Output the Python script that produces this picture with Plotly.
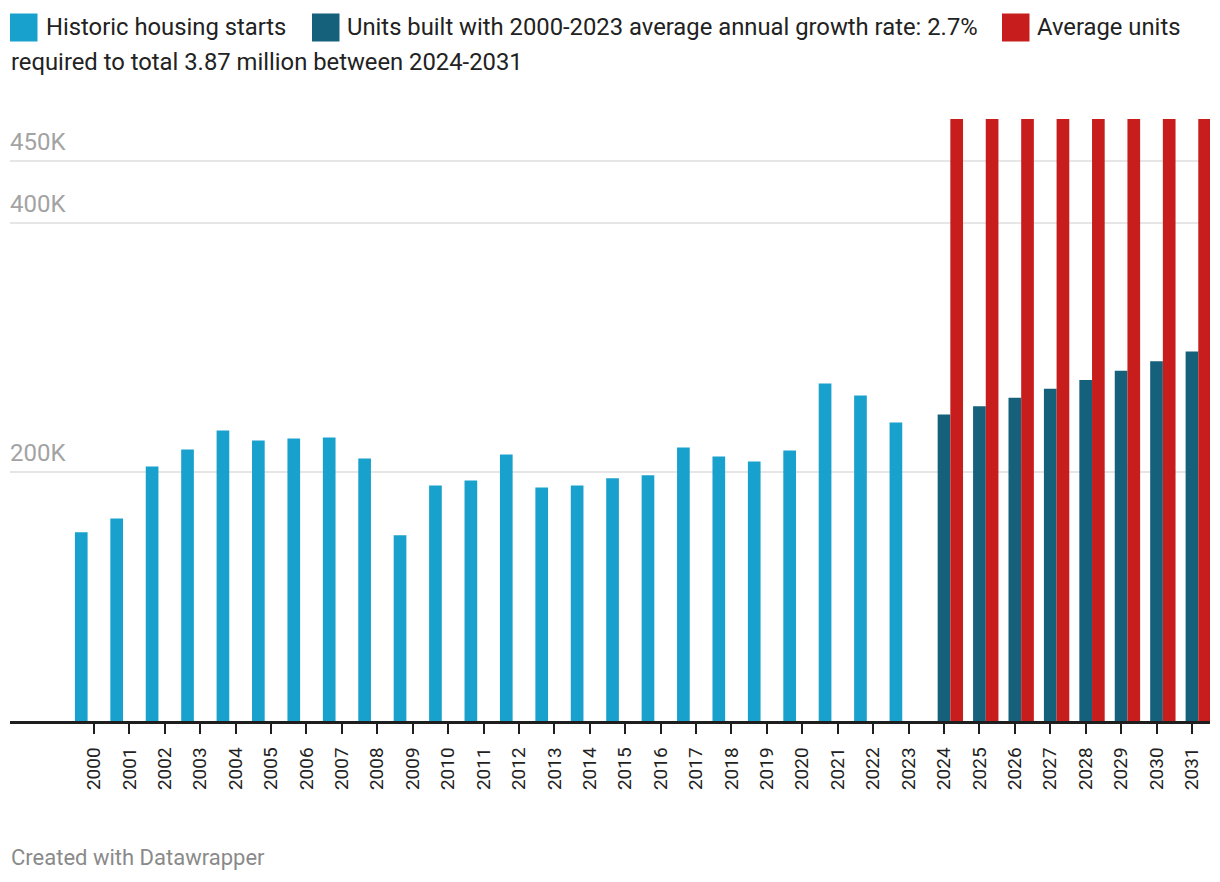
import plotly.graph_objects as go

# ---------------- data ----------------
years = [str(y) for y in range(2000, 2032)]
historic_years = [str(y) for y in range(2000, 2024)]
historic_starts = [151600, 162800, 204600, 218200, 233500, 225500, 227100, 227900,
                   211000, 149200, 189300, 193300, 214200, 187700, 189300, 195000,
                   197400, 219800, 212600, 208600, 217400, 271200, 261600, 239900]
proj_years = [str(y) for y in range(2024, 2032)]
growth_units = [246300, 252900, 259800, 266900, 274100, 281500, 289100, 296900]
required_units = [483750] * 8
ytick_vals = [200000, 400000, 450000]
ytick_text = ["200K", "400K", "450K"]

name_hist = "Historic housing starts"
name_growth = "Units built with 2000-2023 average annual growth rate: 2.7%"
name_req_1 = "Average units"
name_req_2 = "required to total 3.87 million between 2024-2031"

# ---------------- style ----------------
W, H = 1220, 882
ML, MR, MT, MB = 10, 10, 119, 161
PW, PH = W - ML - MR, H - MT - MB
C_BLUE, C_DARK, C_RED = "#18a1cd", "#15607a", "#c71e1d"
FONT = "Roboto"
slot = 0.358


def px_x(x):
    return (x - ML) / PW


def px_y(y):
    return (H - MB - y) / PH


fig = go.Figure()
fig.add_trace(go.Bar(x=historic_years, y=historic_starts, name=name_hist,
                     marker=dict(color=C_BLUE, line=dict(width=0)),
                     width=slot, offset=-1.5 * slot, showlegend=False))
fig.add_trace(go.Bar(x=proj_years, y=growth_units, name=name_growth,
                     marker=dict(color=C_DARK, line=dict(width=0)),
                     width=slot, offset=-0.5 * slot, showlegend=False))
fig.add_trace(go.Bar(x=proj_years, y=required_units, name=name_req_1 + " " + name_req_2,
                     marker=dict(color=C_RED, line=dict(width=0)),
                     width=slot, offset=0.5 * slot, showlegend=False))

# ---------------- custom legend ----------------
shapes = []
annotations = []
legend_items = [
    (10, 37.5, C_BLUE, 43.5, name_hist),
    (312, 339.5, C_DARK, 344.5, name_growth),
    (1002, 1029.5, C_RED, 1034.5, name_req_1),
]
for x0, x1, col, tx, txt in legend_items:
    shapes.append(dict(type="rect", xref="paper", yref="paper",
                       x0=px_x(x0), x1=px_x(x1), y0=px_y(41.5), y1=px_y(13.5),
                       fillcolor=col, line=dict(width=0), layer="above"))
    annotations.append(dict(text=txt, xref="paper", yref="paper",
                            x=px_x(tx), y=px_y(27.5), xanchor="left", yanchor="middle",
                            showarrow=False, font=dict(family=FONT, size=23.8, color="#222222")))
annotations.append(dict(text=name_req_2, xref="paper", yref="paper",
                        x=px_x(10 - 1.5), y=px_y(62), xanchor="left", yanchor="middle",
                        showarrow=False, font=dict(family=FONT, size=23.8, color="#222222")))
annotations.append(dict(text="Created with Datawrapper", xref="paper", yref="paper",
                        x=px_x(10 - 1.5), y=px_y(857), xanchor="left", yanchor="middle",
                        showarrow=False, font=dict(family=FONT, size=22, color="#8a8a8a")))

fig.update_layout(
    width=W, height=H,
    margin=dict(l=ML, r=MR, t=MT, b=MB, pad=0),
    paper_bgcolor="white", plot_bgcolor="white",
    barmode="overlay",
    showlegend=False,
    font=dict(family=FONT, color="#222222"),
    shapes=shapes,
    annotations=annotations,
    xaxis=dict(type="category", categoryorder="array", categoryarray=years,
               range=[-2.37, 31.51], showgrid=False,
               showline=True, linecolor="#1e1e1e", linewidth=2.5,
               ticks="outside", ticklen=10, tickwidth=2, tickcolor="#1e1e1e",
               tickangle=-90, tickfont=dict(family=FONT, size=19, color="#222222"),
               ticklabelstandoff=6, fixedrange=True),
    yaxis=dict(range=[0, 483750], tickvals=ytick_vals, ticktext=ytick_text,
               showgrid=True, gridcolor="#e6e6e6", gridwidth=2,
               zeroline=False, showline=False, ticks="",
               ticklabelposition="inside top",
               ticklabelstandoff=-3, ticklabelshift=-3,
               tickfont=dict(family=FONT, size=24, color="#a3a3a3"),
               fixedrange=True),
)

fig.write_html("out.html")
